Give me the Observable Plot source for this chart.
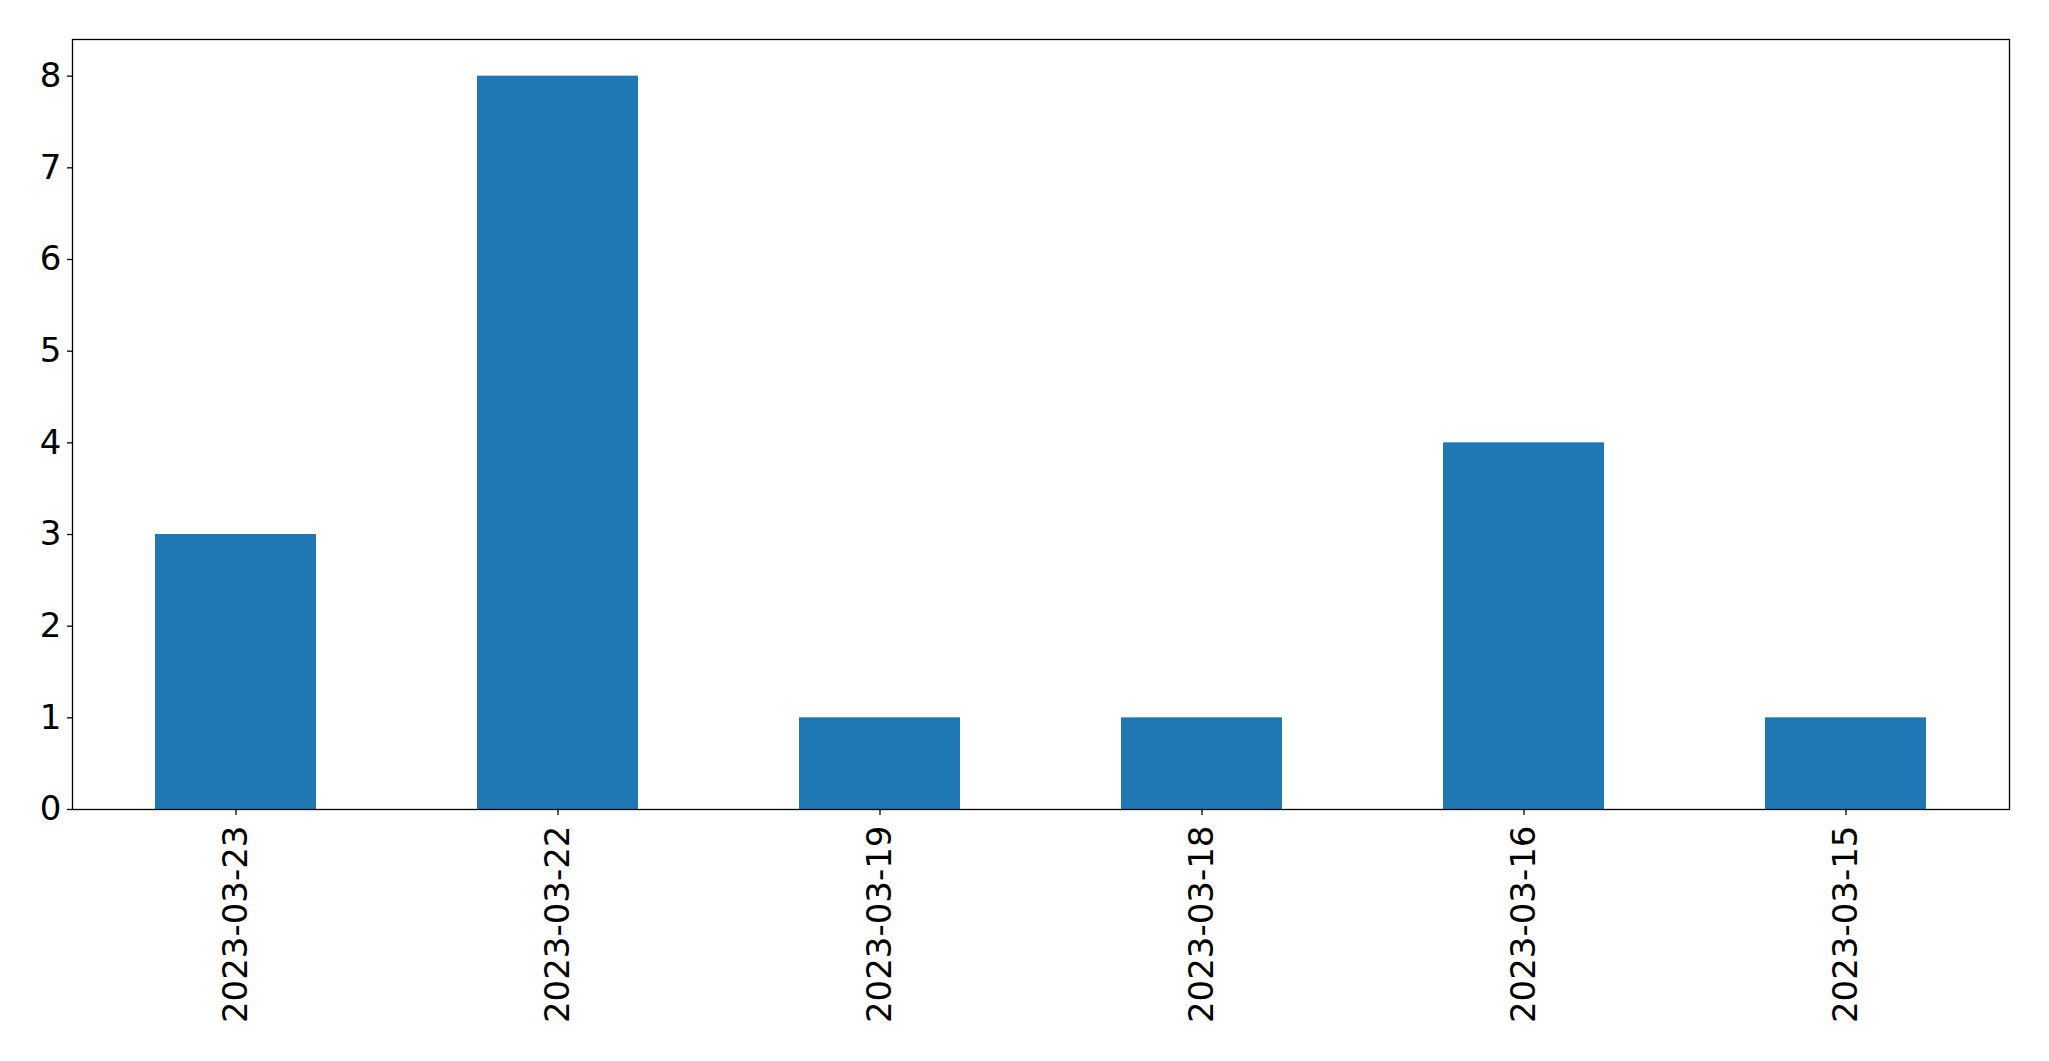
<!DOCTYPE html>
<html>
<head>
<meta charset="utf-8">
<script src="https://cdn.jsdelivr.net/npm/d3@7"></script>
<script src="https://cdn.jsdelivr.net/npm/@observablehq/plot@0.6"></script>
<style>
  html, body { margin: 0; padding: 0; background: #fff; }
  #chart { width: 2049px; height: 1061px; }
</style>
</head>
<body>
<div id="chart"></div>
<script>
const dates = ["2023-03-23", "2023-03-22", "2023-03-19", "2023-03-18", "2023-03-16", "2023-03-15"];
const counts = [3, 8, 1, 1, 4, 1];
const yTicks = [0, 1, 2, 3, 4, 5, 6, 7, 8];

const data = dates.map((d, i) => ({date: d, count: counts[i]}));

const chart = Plot.plot({
  width: 2049,
  height: 1061,
  marginLeft: 72,
  marginTop: 39,
  marginRight: 40,
  marginBottom: 252,
  style: {fontFamily: "DejaVu Sans", fontSize: "34px", color: "#000", background: "#fff"},
  x: {domain: dates, paddingInner: 0.5, paddingOuter: 0.25, label: null},
  y: {domain: [0, 8.4], label: null},
  marks: [
    Plot.barY(data, {x: "date", y: "count", fill: "#1f77b4"}),
    Plot.axisY({ticks: yTicks, tickSize: 5, tickPadding: 6, tickFormat: d => String(d), label: null, fontSize: 34, strokeWidth: 1.3}),
    Plot.axisX({tickSize: 6, tickPadding: 10, tickRotate: -90, label: null, fontSize: 34, strokeWidth: 1.3}),
    Plot.frame({stroke: "#000", strokeWidth: 1.3})
  ]
});
document.getElementById("chart").appendChild(chart);
</script>
</body>
</html>
